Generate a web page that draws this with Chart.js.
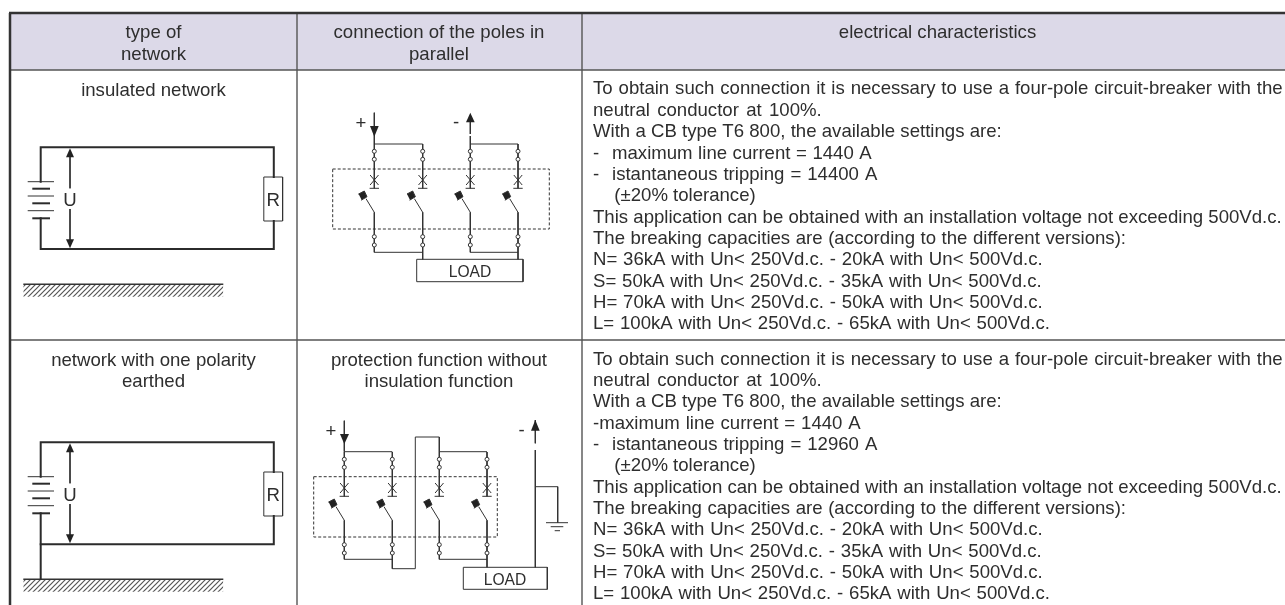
<!DOCTYPE html>
<html>
<head>
<meta charset="utf-8">
<script src="https://cdn.jsdelivr.net/npm/chart.js@4/dist/chart.umd.min.js"></script>
<style>
    html, body { margin: 0; padding: 0; background: #fff; }
    canvas { display: block; }
</style>
</head>
<body>
<canvas id="canvas" width="1285" height="605"></canvas>
<script>
// table text
const headerLabels = [
    ['type of', 153.5, 38], ['network', 153.5, 59.5],
    ['connection of the poles in', 439, 38], ['parallel', 439, 59.5],
    ['electrical characteristics', 937.5, 38],
];
const networkLabels = [
    ['insulated network', 153.5, 96],
    ['network with one polarity', 153.5, 365.5], ['earthed', 153.5, 387],
    ['protection function without', 439, 365.5], ['insulation function', 439, 387],
];
const firstRowLines = [
    'To obtain such connection it is necessary to use a four-pole circuit-breaker with the',
    'neutral conductor at 100%.',
    'With a CB type T6 800, the available settings are:',
    '-  maximum line current = 1440 A',
    '-  istantaneous tripping = 14400 A',
    '(±20% tolerance)',
    'This application can be obtained with an installation voltage not exceeding 500Vd.c.',
    'The breaking capacities are (according to the different versions):',
    'N= 36kA with Un< 250Vd.c. - 20kA with Un< 500Vd.c.',
    'S= 50kA with Un< 250Vd.c. - 35kA with Un< 500Vd.c.',
    'H= 70kA with Un< 250Vd.c. - 50kA with Un< 500Vd.c.',
    'L= 100kA with Un< 250Vd.c. - 65kA with Un< 500Vd.c.',
];
const secondRowLines = [
    'To obtain such connection it is necessary to use a four-pole circuit-breaker with the',
    'neutral conductor at 100%.',
    'With a CB type T6 800, the available settings are:',
    '-maximum line current = 1440 A',
    '-  istantaneous tripping = 12960 A',
    '(±20% tolerance)',
    'This application can be obtained with an installation voltage not exceeding 500Vd.c.',
    'The breaking capacities are (according to the different versions):',
    'N= 36kA with Un< 250Vd.c. - 20kA with Un< 500Vd.c.',
    'S= 50kA with Un< 250Vd.c. - 35kA with Un< 500Vd.c.',
    'H= 70kA with Un< 250Vd.c. - 50kA with Un< 500Vd.c.',
    'L= 100kA with Un< 250Vd.c. - 65kA with Un< 500Vd.c.',
];
const firstRowBaselines = [94, 116, 137.3, 159, 180, 201, 222.7, 244, 265, 286.7, 307.5, 329];
const secondRowBaselines = [364.5, 386.3, 407.3, 429, 450, 471, 492.7, 514, 535, 556.7, 577.5, 599];
// where each line of the right column ends
const firstRowEnds = [1282.7, 821.7, 1001.7, 871.7, 877.3, 755.7, 1281.7, 1126, 1042.7, 1041.7, 1042.7, 1050];
const secondRowEnds = [1282.7, 821.7, 1001.7, 860.7, 877.3, 755.7, 1281.7, 1126, 1042.7, 1041.7, 1042.7, 1050];
const symbolLabels = [
    ['U', 70, 205.5, 18.6], ['R', 273.2, 205.5, 18.6],
    ['U', 70, 500.5, 18.6], ['R', 273.2, 500.5, 18.6],
    ['+', 361, 129, 18.6], ['-', 456, 128, 18.6],
    ['+', 331, 437, 18.6], ['-', 521.5, 436, 18.6],
    ['LOAD', 470, 277, 15.6], ['LOAD', 505, 584.5, 15.6],
];

// table rules
const heavyRules = [
    [[9, 13], [1285, 13]],
    [[10, 13], [10, 605]],
];
const lightRules = [
    [[10, 70], [1285, 70]],
    [[10, 340], [1285, 340]],
    [[297, 13], [297, 605]],
    [[582, 13], [582, 605]],
];
const headerBand = [[10, 14], [1285, 14]];

// left column circuits, the second one sits lower and touches the ground
const circuitWires = [
    [[40.7, 181.7], [40.7, 147.3], [273.8, 147.3], [273.8, 177]],
    [[40.7, 218.3], [40.7, 249], [273.8, 249], [273.8, 221]],
    [[33.3, 188.7], [49, 188.7]],
    [[33.3, 203.3], [49, 203.3]],
    [[33.3, 218.3], [49, 218.3]],
    [[40.7, 476.7], [40.7, 442.3], [273.8, 442.3], [273.8, 472]],
    [[40.7, 513.3], [40.7, 579]],
    [[40.7, 544.3], [273.8, 544.3], [273.8, 516]],
    [[33.3, 483.7], [49, 483.7]],
    [[33.3, 498.3], [49, 498.3]],
    [[33.3, 513.3], [49, 513.3]],
];
const circuitThin = [
    [[27.7, 181.7], [54, 181.7]],
    [[27.7, 196], [54, 196]],
    [[27.7, 210.7], [54, 210.7]],
    [[70, 157], [70, 188.3]],
    [[70, 209], [70, 240]],
    [[263.8, 177], [282.6, 177], [282.6, 221], [263.8, 221], [263.8, 177]],
    [[27.7, 476.7], [54, 476.7]],
    [[27.7, 491], [54, 491]],
    [[27.7, 505.7], [54, 505.7]],
    [[70, 452], [70, 483.3]],
    [[70, 504], [70, 535]],
    [[263.8, 472], [282.6, 472], [282.6, 516], [263.8, 516], [263.8, 472]],
];
const groundLines = [
    [[23.3, 284.3], [223.3, 284.3]],
    [[23.3, 579.3], [223.3, 579.3]],
];
const hatchBands = [
    [[23.3, 285], [223.3, 285], 296.7],
    [[23.3, 580], [223.3, 580], 591.7],
];

// breaker diagrams
const upperPoles = [374.3, 422.7, 470.3, 518];
const lowerPoles = [344.3, 392.3, 439.3, 487];
const lowerPoleShift = 308;
const poleWires = [
    [[0, 144], [0, 188.3]],
    [[-4.2, 175], [4.2, 185]],
    [[-4.2, 185], [4.2, 175]],
    [[-4.7, 188.3], [4.7, 188.3]],
    [[-8.3, 198.7], [0, 212.3], [0, 247]],
];
const poleContact = [[-15.7, 194], [-10, 191], [-7.3, 196.7], [-12.7, 200]];
const poleTerminals = [151.3, 159.3, 236.7, 245];

const diagramWires = [
    [[374.3, 112.7], [374.3, 144], [422.7, 144]],
    [[470.3, 122], [470.3, 134]],
    [[470.3, 136], [470.3, 144], [518, 144]],
    [[374.3, 247], [374.3, 252.3], [422.7, 252.3]],
    [[422.7, 247], [422.7, 259.3]],
    [[470.3, 247], [470.3, 252.3], [518, 252.3]],
    [[518, 247], [518, 259.3]],
    [[416.7, 259.3], [523, 259.3], [523, 281.7], [416.7, 281.7], [416.7, 259.3]],
    [[344.3, 420.7], [344.3, 451.7], [392.3, 451.7]],
    [[439.3, 451.7], [487, 451.7]],
    [[344.3, 555], [344.3, 559.3], [392.3, 559.3]],
    [[392.3, 555], [392.3, 568.7], [415.3, 568.7], [415.3, 437], [439.3, 437], [439.3, 452]],
    [[439.3, 555], [439.3, 559.3], [487, 559.3]],
    [[487, 555], [487, 567.3]],
    [[463.3, 567.3], [547.3, 567.3], [547.3, 589.3], [463.3, 589.3], [463.3, 567.3]],
    [[535.3, 420], [535.3, 443.3]],
    [[535.3, 450], [535.3, 567.3]],
    [[535.3, 486.7], [557.7, 486.7], [557.7, 522.7]],
    [[546, 522.7], [568, 522.7]],
    [[550.7, 526.7], [563.3, 526.7]],
    [[554.7, 530.7], [560, 530.7]],
];
const dashedBoxes = [
    [[332.7, 169], [549.3, 169], [549.3, 229], [332.7, 229], [332.7, 169]],
    [[313.7, 476.7], [497.3, 476.7], [497.3, 537], [313.7, 537], [313.7, 476.7]],
];
const arrowHeads = [
    [[66, 157.3], [70, 148.3], [74, 157.3]],
    [[66, 239.3], [70, 248.3], [74, 239.3]],
    [[66, 452.3], [70, 443.3], [74, 452.3]],
    [[66, 534.3], [70, 543.3], [74, 534.3]],
    [[370, 126], [374.3, 136.7], [378.7, 126]],
    [[466, 122.3], [470.3, 112.7], [474.7, 122.3]],
    [[340, 434], [344.3, 444], [349, 434]],
    [[531, 430.7], [535.3, 420], [539.7, 430.7]],
];

const INK = '#333';
const WHITE = '#fff';
const TEXT_SIZE = 18.6;
const TEXT_LEFT = 593;
const DASH_TEXT_LEFT = 612;
const NOTE_TEXT_LEFT = 614.3;

function toPoints(path) {
    return path.map(([x, y]) => ({x, y}));
}

function lineSet(path, width, color, extra) {
    return Object.assign({
        data: toPoints(path),
        showLine: true,
        borderColor: color,
        borderWidth: width,
        borderCapStyle: 'square',
        borderJoinStyle: 'miter',
        pointRadius: 0,
        fill: false,
        order: 2,
    }, extra);
}

function hatchPattern() {
    const tile = document.createElement('canvas');
    tile.width = 5;
    tile.height = 5;
    const ctx = tile.getContext('2d');
    ctx.strokeStyle = '#555';
    ctx.lineWidth = 1.2;
    ctx.beginPath();
    ctx.moveTo(-1, 6);
    ctx.lineTo(6, -1);
    ctx.moveTo(-1, 1);
    ctx.lineTo(1, -1);
    ctx.moveTo(4, 6);
    ctx.lineTo(6, 4);
    ctx.stroke();
    return ctx.createPattern(tile, 'repeat');
}

function poleSets(poles, shift) {
    const sets = [];
    poles.forEach(x => {
        const at = path => path.map(([dx, y]) => [x + dx, y + shift]);
        poleWires.forEach(path => sets.push(lineSet(at(path), 1, INK, {borderCapStyle: 'butt'})));
        sets.push(lineSet(at(poleContact), 1, INK, {fill: 'shape', backgroundColor: '#222', order: 1}));
    });
    return sets;
}

function terminalSet(poles, shift) {
    const points = [];
    poles.forEach(x => poleTerminals.forEach(y => points.push({x, y: y + shift})));
    return {
        data: points,
        showLine: false,
        pointStyle: 'circle',
        pointRadius: 2,
        pointBorderWidth: 1,
        pointBorderColor: INK,
        pointBackgroundColor: WHITE,
        order: 0,
    };
}

function buildDatasets() {
    const pattern = hatchPattern();
    const sets = [
        lineSet(headerBand, 0, '#dcd9e8', {fill: {value: 70}, backgroundColor: '#dcd9e8', order: 9}),
    ];
    hatchBands.forEach(([from, to, bottom]) => {
        sets.push(lineSet([from, to], 0, INK, {fill: {value: bottom}, backgroundColor: pattern, order: 8}));
    });
    heavyRules.forEach(path => sets.push(lineSet(path, 2.5, '#333', {borderCapStyle: 'butt', order: 3})));
    lightRules.forEach(path => sets.push(lineSet(path, 1.4, '#555', {borderCapStyle: 'butt', order: 4})));
    circuitWires.forEach(path => sets.push(lineSet(path, 2, '#2b2b2b')));
    circuitThin.forEach(path => sets.push(lineSet(path, 1, INK, {borderCapStyle: 'butt'})));
    groundLines.forEach(path => sets.push(lineSet(path, 1.6, INK, {borderCapStyle: 'butt'})));
    diagramWires.forEach(path => sets.push(lineSet(path, 1, INK, {borderCapStyle: 'butt'})));
    dashedBoxes.forEach(path => sets.push(lineSet(path, 1, INK, {borderDash: [3, 2], borderCapStyle: 'butt', order: 3})));
    arrowHeads.forEach(path => sets.push(lineSet(path, 0, INK, {fill: 'shape', backgroundColor: '#222', order: 1})));
    sets.push(...poleSets(upperPoles, 0));
    sets.push(...poleSets(lowerPoles, lowerPoleShift));
    sets.push(terminalSet(upperPoles, 0));
    sets.push(terminalSet(lowerPoles, lowerPoleShift));
    return sets;
}

const tableText = {
    id: 'tableText',
    afterDraw(chart) {
        const {ctx, scales: {x: xScale, y: yScale}} = chart;
        const put = (text, x, y, size, align) => {
            ctx.font = size + 'px "Liberation Sans"';
            ctx.textAlign = align;
            ctx.fillText(text, xScale.getPixelForValue(x), yScale.getPixelForValue(y));
        };
        // the source text is set justified, so stretch the word gaps up to the read line end
        const putFitted = (text, x, y, end) => {
            ctx.font = TEXT_SIZE + 'px "Liberation Sans"';
            ctx.wordSpacing = '0px';
            const gaps = text.split(' ').length - 1;
            const spare = end - x - ctx.measureText(text).width;
            ctx.wordSpacing = (gaps ? spare / gaps : 0) + 'px';
            put(text, x, y, TEXT_SIZE, 'left');
            ctx.wordSpacing = '0px';
        };
        const putLine = (text, y, end) => {
            const dashed = text.match(/^-\s+(.*)$/);
            if (dashed) {
                put('-', TEXT_LEFT, y, TEXT_SIZE, 'left');
                putFitted(dashed[1], DASH_TEXT_LEFT, y, end);
            } else {
                putFitted(text, text.startsWith('(') ? NOTE_TEXT_LEFT : TEXT_LEFT, y, end);
            }
        };
        ctx.save();
        ctx.fillStyle = '#2e2e2e';
        ctx.textBaseline = 'alphabetic';
        headerLabels.concat(networkLabels).forEach(([text, x, y]) => put(text, x, y, TEXT_SIZE, 'center'));
        firstRowLines.forEach((text, i) => putLine(text, firstRowBaselines[i], firstRowEnds[i]));
        secondRowLines.forEach((text, i) => putLine(text, secondRowBaselines[i], secondRowEnds[i]));
        symbolLabels.forEach(([text, x, y, size]) => put(text, x, y, size, 'center'));
        ctx.restore();
    },
};

new Chart(document.getElementById('canvas'), {
    type: 'scatter',
    data: {datasets: buildDatasets()},
    plugins: [tableText],
    options: {
        responsive: false,
        animation: false,
        events: [],
        layout: {padding: 0, autoPadding: false},
        plugins: {
            legend: {display: false},
            tooltip: {enabled: false},
        },
        scales: {
            x: {type: 'linear', min: 0, max: 1285, display: false},
            y: {type: 'linear', min: 0, max: 605, reverse: true, display: false},
        },
    },
});
</script>
</body>
</html>
